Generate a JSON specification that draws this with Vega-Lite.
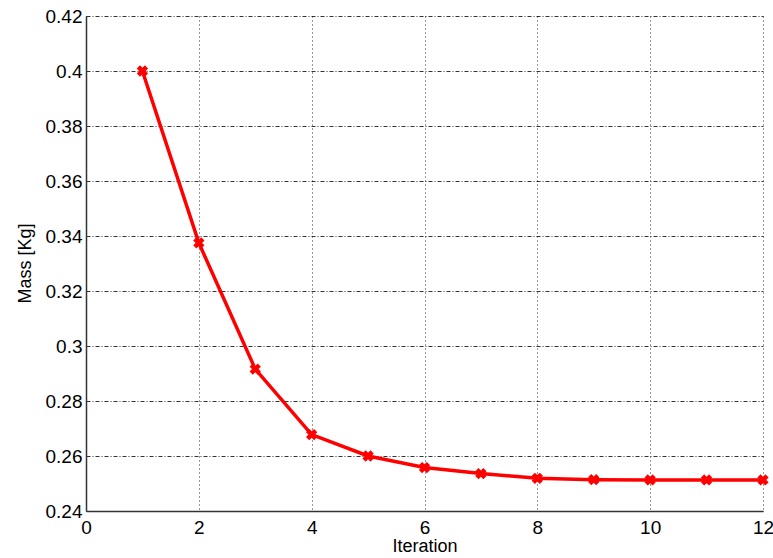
{
  "$schema": "https://vega.github.io/schema/vega-lite/v6.json",
  "width": 677,
  "height": 495,
  "autosize": "none",
  "padding": {"left": 86, "top": 16, "right": 10, "bottom": 47},
  "background": "white",
  "config": {
    "view": {"stroke": null},
    "font": "Liberation Sans",
    "axis": {
      "domainColor": "#333333",
      "domainWidth": 1.5,
      "labelColor": "black",
      "titleColor": "black",
      "labelFont": "Liberation Sans",
      "titleFont": "Liberation Sans",
      "labelFontSize": 19,
      "titleFontSize": 18,
      "titleFontWeight": "normal",
      "ticks": false,
      "gridColor": "black",
      "gridOpacity": 0.8,
      "gridWidth": 1
    }
  },
  "data": {
    "values": [
      {"iteration": 1, "mass": 0.4},
      {"iteration": 2, "mass": 0.3375},
      {"iteration": 3, "mass": 0.2916},
      {"iteration": 4, "mass": 0.2678},
      {"iteration": 5, "mass": 0.2600},
      {"iteration": 6, "mass": 0.2558},
      {"iteration": 7, "mass": 0.2536},
      {"iteration": 8, "mass": 0.2519},
      {"iteration": 9, "mass": 0.2514},
      {"iteration": 10, "mass": 0.2513},
      {"iteration": 11, "mass": 0.2513},
      {"iteration": 12, "mass": 0.2513}
    ]
  },
  "encoding": {
    "x": {
      "field": "iteration",
      "type": "quantitative",
      "scale": {"domain": [0, 12], "nice": false, "zero": false},
      "axis": {
        "title": "Iteration",
        "values": [0, 2, 4, 6, 8, 10, 12],
        "format": "d",
        "labelPadding": 7,
        "titlePadding": 0,
        "gridDash": [1, 3],
        "labelFlush": false
      }
    },
    "y": {
      "field": "mass",
      "type": "quantitative",
      "scale": {"domain": [0.24, 0.42], "nice": false, "zero": false},
      "axis": {
        "title": "Mass [Kg]",
        "values": [0.24, 0.26, 0.28, 0.3, 0.32, 0.34, 0.36, 0.38, 0.4, 0.42],
        "format": ".2~f",
        "labelPadding": 4,
        "titleX": -61,
        "titleY": 247,
        "titleAngle": -90,
        "titleAlign": "center",
        "titleBaseline": "middle",
        "gridDash": [4, 2, 1, 2],
        "labelFlush": false
      }
    }
  },
  "layer": [
    {
      "mark": {"type": "line", "color": "#ff0000", "strokeWidth": 3.5}
    },
    {
      "mark": {"type": "point", "shape": "cross", "angle": 45, "filled": true, "color": "#ff0000", "size": 130, "opacity": 1, "strokeWidth": 0}
    }
  ]
}
